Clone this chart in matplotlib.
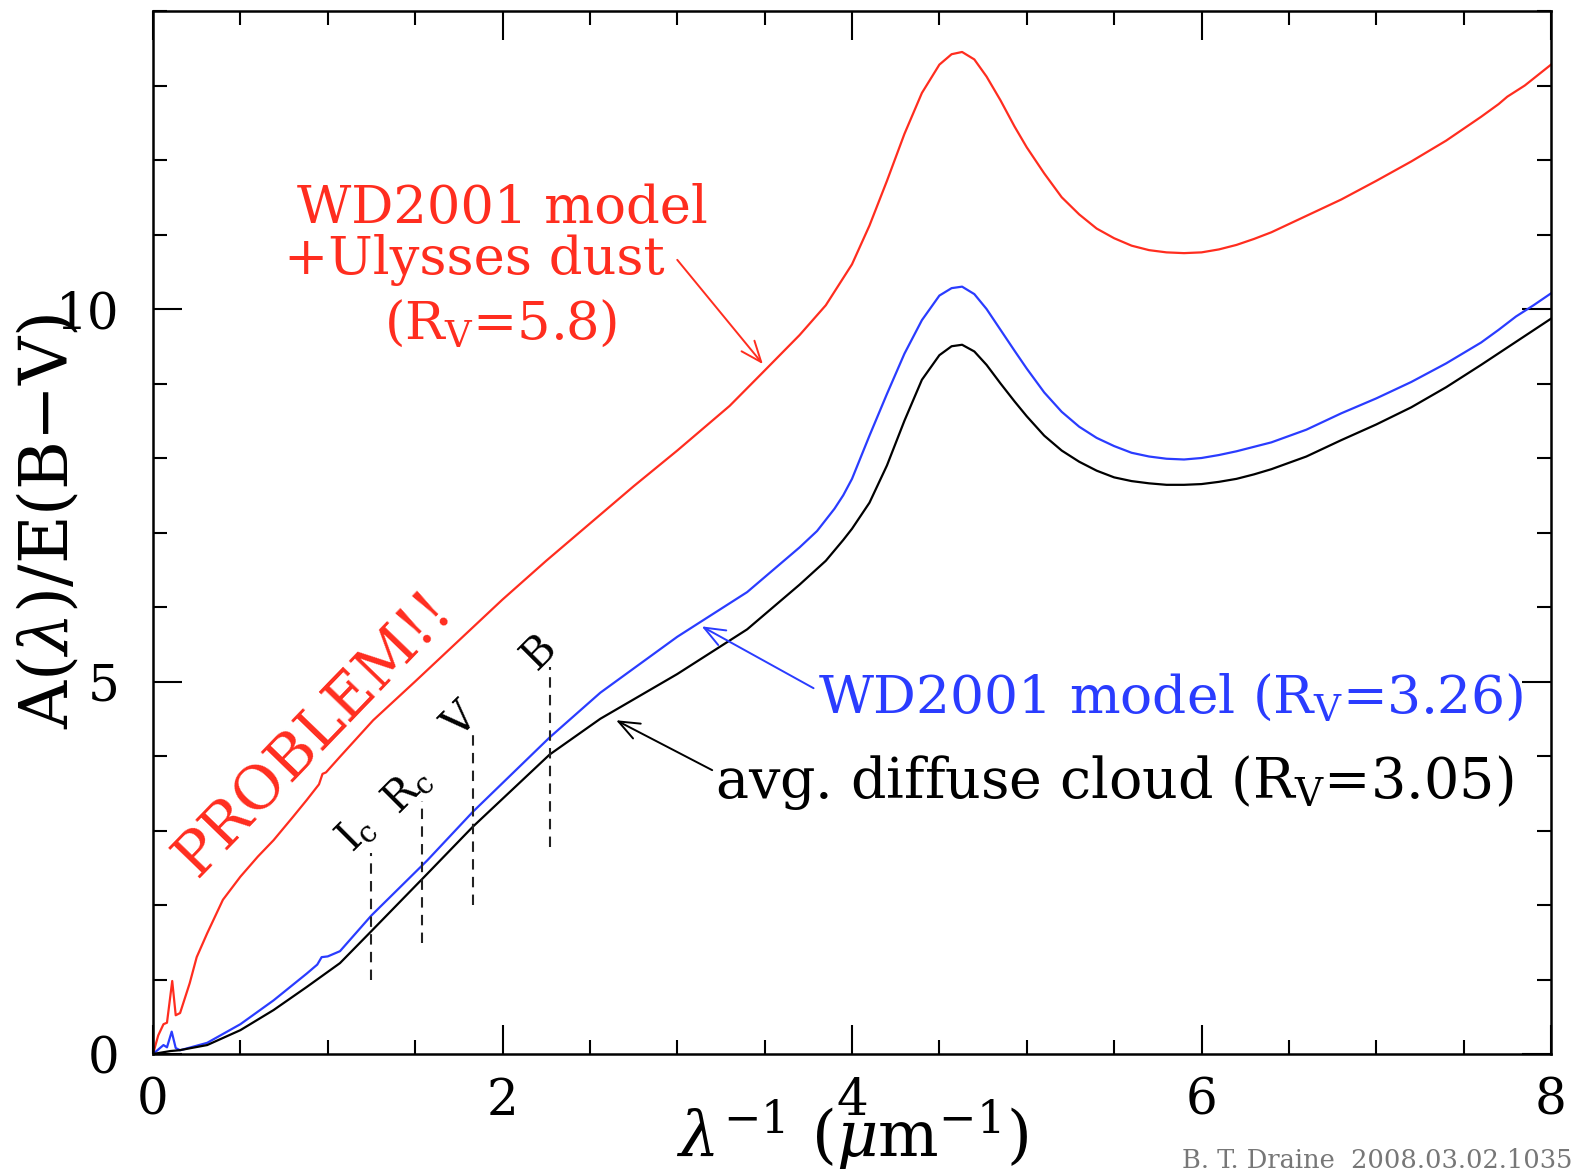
import matplotlib
matplotlib.use('Agg')
import matplotlib.pyplot as plt
from matplotlib.ticker import MultipleLocator

plt.rcParams['font.family'] = ['DejaVu Serif']
plt.rcParams['mathtext.fontset'] = 'dejavuserif'

RED = '#ff2d1f'
BLUE = '#2a3cff'

# WD2001 model + Ulysses dust (Rv=5.8)
red_x = [0, 0.03, 0.06, 0.08, 0.11, 0.13, 0.155, 0.21, 0.25, 0.31, 0.40, 0.50,
         0.6, 0.69, 0.8, 0.88, 0.95, 0.97, 0.99, 1.07, 1.26, 1.5, 1.75, 2.0,
         2.25, 2.5, 2.75, 3.0, 3.3, 3.49, 3.7, 3.85, 4.0, 4.1, 4.2, 4.3,
         4.4, 4.5, 4.57, 4.63, 4.7, 4.77, 4.85, 4.93, 5.0, 5.1, 5.2, 5.3,
         5.4, 5.5, 5.6, 5.7, 5.8, 5.9, 6.0, 6.1, 6.2, 6.3, 6.4, 6.6,
         6.8, 7.0, 7.2, 7.4, 7.6, 7.7, 7.75, 7.85, 8.0]
red_y = [0, 0.25, 0.4, 0.42, 0.98, 0.52, 0.55, 0.95, 1.3, 1.62, 2.07, 2.38,
         2.65, 2.87, 3.18, 3.41, 3.62, 3.76, 3.78, 3.99, 4.48, 5.0, 5.55, 6.1,
         6.62, 7.12, 7.62, 8.1, 8.7, 9.15, 9.65, 10.05, 10.6, 11.12, 11.72, 12.35,
         12.9, 13.28, 13.42, 13.45, 13.35, 13.12, 12.8, 12.45, 12.17, 11.82, 11.5, 11.27,
         11.08, 10.95, 10.85, 10.79, 10.76, 10.75, 10.76, 10.8, 10.86, 10.94, 11.03, 11.25,
         11.47, 11.72, 11.98, 12.26, 12.58, 12.75, 12.85, 13.0, 13.28]

# WD2001 model (Rv=3.26)
blue_x = [0, 0.03, 0.06, 0.08, 0.107, 0.13, 0.155, 0.31, 0.5, 0.69, 0.88, 0.94,
          0.965, 1.0, 1.07, 1.25, 1.57, 1.83, 2.27, 2.56, 3.0, 3.4, 3.7, 3.8,
          3.9, 3.95, 4.0, 4.1, 4.2, 4.3, 4.4, 4.5, 4.57, 4.63, 4.7, 4.77,
          4.85, 4.93, 5.0, 5.1, 5.2, 5.3, 5.4, 5.5, 5.6, 5.7, 5.8, 5.9,
          6.0, 6.1, 6.2, 6.3, 6.4, 6.6, 6.8, 7.0, 7.2, 7.4, 7.6, 7.7,
          7.8, 7.9, 8.0]
blue_y = [0, 0.06, 0.12, 0.09, 0.3, 0.08, 0.05, 0.15, 0.4, 0.72, 1.08, 1.2,
          1.3, 1.31, 1.38, 1.86, 2.6, 3.25, 4.25, 4.85, 5.6, 6.2, 6.8, 7.02,
          7.32, 7.5, 7.72, 8.3, 8.86, 9.4, 9.85, 10.18, 10.28, 10.3, 10.2, 10.0,
          9.72, 9.44, 9.2, 8.88, 8.62, 8.42, 8.27, 8.16, 8.07, 8.02, 7.99, 7.98,
          8.0, 8.04, 8.09, 8.15, 8.21, 8.38, 8.6, 8.8, 9.02, 9.27, 9.55, 9.72,
          9.9, 10.05, 10.21]

# avg. diffuse cloud (Rv=3.05)
black_x = [0, 0.05, 0.1, 0.15, 0.31, 0.5, 0.69, 0.88, 1.07, 1.25, 1.57, 1.83,
           2.27, 2.56, 3.0, 3.4, 3.7, 3.85, 3.95, 4.0, 4.1, 4.2, 4.3, 4.4,
           4.5, 4.57, 4.63, 4.7, 4.77, 4.85, 4.93, 5.0, 5.1, 5.2, 5.3, 5.4,
           5.5, 5.6, 5.7, 5.8, 5.9, 6.0, 6.1, 6.2, 6.3, 6.4, 6.6, 6.8,
           7.0, 7.2, 7.4, 7.6, 7.8, 8.0]
black_y = [0, 0.02, 0.04, 0.05, 0.12, 0.32, 0.59, 0.9, 1.22, 1.65, 2.42, 3.05,
           4.02, 4.5, 5.1, 5.7, 6.3, 6.62, 6.9, 7.05, 7.4, 7.9, 8.5, 9.05,
           9.38, 9.5, 9.52, 9.43, 9.25, 9.0, 8.76, 8.56, 8.3, 8.1, 7.95, 7.83,
           7.74, 7.69, 7.66, 7.64, 7.64, 7.65, 7.68, 7.72, 7.78, 7.85, 8.02, 8.24,
           8.45, 8.68, 8.95, 9.25, 9.56, 9.87]

# photometric bands
band_names = ['I$_\\mathrm{c}$', 'R$_\\mathrm{c}$', 'V', 'B']
band_x = [1.247, 1.54, 1.83, 2.27]
band_ylo = [0.99, 1.49, 2.0, 2.78]
band_yhi = [2.70, 3.39, 4.31, 5.2]
band_lab_x = [1.16, 1.45, 1.76, 2.21]
band_lab_y = [2.97, 3.56, 4.47, 5.4]

fig = plt.figure(figsize=(15.79, 11.72), dpi=100)
ax = fig.add_axes([153 / 1579, 1 - 1054 / 1172, 1398 / 1579, 1043 / 1172])

ax.plot(red_x, red_y, color=RED, lw=1.6)
ax.plot(blue_x, blue_y, color=BLUE, lw=1.6)
ax.plot(black_x, black_y, color='k', lw=1.6)

ax.vlines(band_x, band_ylo, band_yhi, colors='#222222', linestyles=(0, (5, 3.5)), lw=1.5)
for name, bx, by in zip(band_names, band_lab_x, band_lab_y):
    ax.text(bx, by, name, fontsize=30, rotation=45, rotation_mode='anchor',
            ha='center', va='center')

ax.text(0.92, 4.31, 'PROBLEM!!', color=RED, fontsize=43, rotation=46,
        rotation_mode='anchor', ha='center', va='center')

ax.text(2.0, 11.15, 'WD2001 model', color=RED, fontsize=38, ha='center', va='baseline')
ax.text(1.84, 10.47, '+Ulysses dust', color=RED, fontsize=38, ha='center', va='baseline')
ax.text(1.99, 9.6, '(R$_\\mathrm{V}$=5.8)', color=RED, fontsize=38, ha='center', va='baseline')

ax.text(3.805, 4.58, 'WD2001 model (R$_\\mathrm{V}$=3.26)', color=BLUE, fontsize=38.5,
        ha='left', va='baseline')
ax.text(3.216, 3.43, 'avg. diffuse cloud (R$_\\mathrm{V}$=3.05)', color='k', fontsize=40,
        ha='left', va='baseline')

arrow = '->,head_length=0.5,head_width=0.2'
ax.annotate('', xy=(3.49, 9.26), xytext=(3.0, 10.66),
            arrowprops=dict(arrowstyle=arrow, color=RED, lw=1.4, mutation_scale=30,
                            shrinkA=0, shrinkB=0))
ax.annotate('', xy=(3.14, 5.74), xytext=(3.78, 4.91),
            arrowprops=dict(arrowstyle=arrow, color=BLUE, lw=1.4, mutation_scale=30,
                            shrinkA=0, shrinkB=0))
ax.annotate('', xy=(2.65, 4.48), xytext=(3.2, 3.81),
            arrowprops=dict(arrowstyle=arrow, color='k', lw=1.4, mutation_scale=30,
                            shrinkA=0, shrinkB=0))

ax.set_xlim(0, 8)
ax.set_ylim(0, 14)
ax.xaxis.set_major_locator(MultipleLocator(2))
ax.xaxis.set_minor_locator(MultipleLocator(0.5))
ax.yaxis.set_major_locator(MultipleLocator(5))
ax.yaxis.set_minor_locator(MultipleLocator(1))
ax.tick_params(which='both', direction='in', top=True, right=True, width=1.5)
ax.tick_params(which='major', length=21, labelsize=36)
ax.tick_params(which='minor', length=10)
ax.tick_params(axis='x', which='major', pad=16)
ax.tick_params(axis='y', which='major', pad=24)
for s in ax.spines.values():
    s.set_linewidth(1.8)

ax.set_xlabel('$\\lambda^{-1}$ ($\\mu$m$^{-1}$)', fontsize=46, va='center')
ax.xaxis.set_label_coords(0.5, -0.0776)
ax.set_ylabel('A($\\lambda$)/E(B$-$V)', fontsize=48, va='center')
ax.yaxis.set_label_coords(-0.0737, 0.511)

fig.text(1572 / 1579, 1 - 1161 / 1172, 'B. T. Draine  2008.03.02.1035', color='#777777',
         fontsize=18.5, ha='right', va='center')

fig.savefig('out.png', dpi=100)
